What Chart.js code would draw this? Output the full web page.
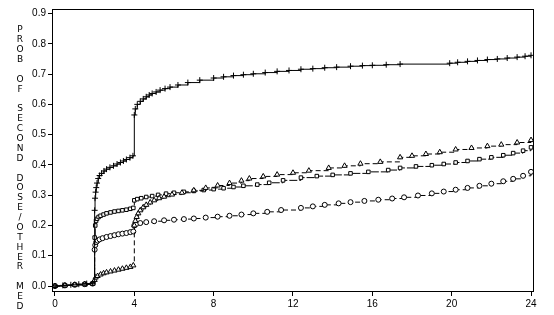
<!DOCTYPE html>
<html>
<head>
<meta charset="utf-8">
<script src="https://cdn.jsdelivr.net/npm/chart.js@4"></script>
<style>
  body { margin: 0; background: #fff; }
</style>
</head>
<body>
<canvas id="grafica" width="554" height="315"></canvas>
<script>
// datos (meses vs probabilidad acumulada)
const xTicks = [0, 4, 8, 12, 16, 20, 24];
const yTicks = [0, 0.1, 0.2, 0.3, 0.4, 0.5, 0.6, 0.7, 0.8, 0.9];
const tituloY = "PROB OF SECOND DOSE/OTHER MED";

// serie "+"
const plusT = [0, 0.4, 0.8, 1.2, 1.6, 1.9, 2.0, 2.02, 2.05, 2.08, 2.12, 2.18, 2.25, 2.35, 2.47, 2.6, 2.77, 2.95, 3.13, 3.3, 3.45, 3.6, 3.78, 3.93, 4.0, 4.05, 4.15, 4.3, 4.45, 4.6, 4.75, 4.9, 5.1, 5.3, 5.55, 5.8, 6.2, 6.7, 7.3, 8.0, 8.5, 9.0, 9.5, 10.0, 10.6, 11.2, 11.8, 12.4, 13.0, 13.6, 14.2, 14.9, 15.5, 16.0, 16.7, 17.4, 19.9, 20.3, 20.8, 21.3, 21.8, 22.3, 22.8, 23.3, 23.7, 24.0];
const plusY = [0, 0.002, 0.004, 0.006, 0.008, 0.01, 0.25, 0.29, 0.31, 0.325, 0.34, 0.355, 0.365, 0.372, 0.38, 0.386, 0.392, 0.397, 0.403, 0.408, 0.413, 0.418, 0.424, 0.43, 0.565, 0.585, 0.6, 0.61, 0.618, 0.625, 0.631, 0.636, 0.641, 0.647, 0.652, 0.657, 0.664, 0.672, 0.68, 0.687, 0.691, 0.695, 0.698, 0.701, 0.705, 0.709, 0.712, 0.716, 0.718, 0.721, 0.723, 0.726, 0.728, 0.729, 0.731, 0.733, 0.736, 0.739, 0.742, 0.745, 0.748, 0.75, 0.753, 0.756, 0.759, 0.762];

// serie triangulos
const triT = [0, 0.5, 1.0, 1.5, 1.9, 2.0, 2.05, 2.15, 2.3, 2.45, 2.6, 2.8, 3.0, 3.2, 3.4, 3.6, 3.8, 3.95, 4.0, 4.05, 4.12, 4.2, 4.3, 4.45, 4.6, 4.8, 5.0, 5.25, 5.5, 5.9, 6.4, 7.0, 7.6, 8.2, 8.8, 9.4, 9.8, 10.5, 11.2, 12.0, 12.8, 13.8, 14.6, 15.4, 16.4, 17.4, 18.0, 18.7, 19.4, 20.2, 21.0, 21.8, 22.5, 23.3, 24.0];
const triY = [0, 0.002, 0.004, 0.006, 0.008, 0.02, 0.028, 0.033, 0.038, 0.042, 0.045, 0.048, 0.051, 0.054, 0.057, 0.06, 0.063, 0.068, 0.2, 0.215, 0.228, 0.24, 0.25, 0.26, 0.268, 0.276, 0.283, 0.29, 0.295, 0.302, 0.308, 0.316, 0.324, 0.332, 0.34, 0.348, 0.355, 0.362, 0.368, 0.374, 0.381, 0.39, 0.397, 0.404, 0.41, 0.425, 0.43, 0.436, 0.442, 0.451, 0.456, 0.462, 0.467, 0.474, 0.482];

// serie cuadrados
const sqT = [0, 0.5, 1.0, 1.5, 1.9, 2.0, 2.03, 2.07, 2.12, 2.2, 2.3, 2.45, 2.6, 2.8, 3.0, 3.2, 3.4, 3.6, 3.8, 3.95, 4.0, 4.15, 4.35, 4.6, 4.9, 5.2, 5.6, 6.0, 6.5, 7.0, 7.5, 8.0, 8.5, 9.0, 9.5, 10.2, 10.8, 11.5, 12.4, 13.2, 14.0, 14.9, 15.8, 16.8, 17.4, 18.2, 19.0, 19.6, 20.2, 20.8, 21.4, 22.0, 22.6, 23.1, 23.6, 24.0];
const sqY = [0, 0.002, 0.004, 0.006, 0.008, 0.16, 0.2, 0.215, 0.222, 0.228, 0.232, 0.236, 0.24, 0.243, 0.246, 0.248, 0.25, 0.252, 0.255, 0.258, 0.283, 0.287, 0.29, 0.294, 0.297, 0.301, 0.305, 0.308, 0.311, 0.314, 0.317, 0.32, 0.323, 0.327, 0.331, 0.335, 0.341, 0.349, 0.358, 0.363, 0.367, 0.372, 0.377, 0.383, 0.39, 0.395, 0.399, 0.403, 0.408, 0.413, 0.419, 0.425, 0.432, 0.439, 0.447, 0.458];

// serie circulos
const circT = [0, 0.5, 1.0, 1.5, 1.9, 2.0, 2.03, 2.08, 2.15, 2.25, 2.4, 2.6, 2.8, 3.0, 3.2, 3.4, 3.6, 3.8, 3.95, 4.0, 4.1, 4.3, 4.6, 5.0, 5.5, 6.0, 6.5, 7.0, 7.6, 8.2, 8.8, 9.4, 10.0, 10.7, 11.4, 12.4, 13.0, 13.6, 14.3, 14.9, 15.6, 16.3, 17.0, 17.6, 18.3, 19.0, 19.6, 20.2, 20.8, 21.4, 22.0, 22.6, 23.1, 23.6, 24.0];
const circY = [0, 0.002, 0.004, 0.006, 0.008, 0.12, 0.135, 0.145, 0.15, 0.154, 0.158, 0.162, 0.165, 0.168, 0.171, 0.173, 0.175, 0.178, 0.18, 0.2, 0.205, 0.208, 0.211, 0.214, 0.217, 0.219, 0.221, 0.223, 0.226, 0.229, 0.232, 0.236, 0.24, 0.245, 0.251, 0.258, 0.263, 0.268, 0.273, 0.277, 0.281, 0.285, 0.289, 0.293, 0.299, 0.306, 0.312, 0.318, 0.324, 0.331, 0.338, 0.346, 0.354, 0.364, 0.377];

function puntos(ts, ys) {
    return ts.map((t, i) => ({ x: t, y: ys[i] }));
}

function serie(ts, ys, estilo, dash, radio) {
    return {
        data: puntos(ts, ys),
        stepped: true,
        borderColor: "#000",
        borderWidth: 1,
        borderDash: dash,
        pointStyle: estilo,
        pointRadius: radio,
        pointBorderColor: "#000",
        pointBackgroundColor: "#fff",
        pointBorderWidth: 1
    };
}

// marco completo y titulo vertical letra por letra
const marco = {
    id: "marco",
    afterDraw(chart) {
        const ctx = chart.ctx;
        const a = chart.chartArea;
        ctx.save();
        ctx.strokeStyle = "#000";
        ctx.lineWidth = 1;
        ctx.strokeRect(a.left + 0.5, a.top + 0.5, a.right - a.left, a.bottom - a.top);

        ctx.fillStyle = "#000";
        ctx.font = "9px 'DejaVu Sans'";
        ctx.textAlign = "center";
        ctx.textBaseline = "middle";
        for (let i = 0; i < tituloY.length; i++) {
            ctx.fillText(tituloY[i], 20, 30 + i * 9.88);
        }
        ctx.restore();
    }
};

Chart.defaults.font.family = "'Liberation Sans', Arial, sans-serif";
Chart.defaults.font.size = 10;
Chart.defaults.color = "#000";

const ctx = document.getElementById("grafica").getContext("2d");
new Chart(ctx, {
    type: "line",
    data: {
        datasets: [
            serie(plusT, plusY, "cross", [], 3),
            serie(triT, triY, "triangle", [5, 3], 3),
            serie(sqT, sqY, "rect", [8, 2], 2.5),
            serie(circT, circY, "circle", [5, 3], 2.5)
        ]
    },
    options: {
        responsive: false,
        animation: false,
        devicePixelRatio: 1,
        layout: { padding: { left: 0, right: 21, top: 9, bottom: 0 } },
        plugins: {
            legend: { display: false },
            tooltip: { enabled: false }
        },
        scales: {
            x: {
                type: "linear",
                min: -0.15,
                max: 24.1,
                afterBuildTicks: s => { s.ticks = xTicks.map(v => ({ value: v })); },
                afterFit: s => { s.height = 24; },
                grid: { drawOnChartArea: false, tickLength: 5, color: "#000" },
                border: { color: "#000" },
                ticks: { padding: 2, maxRotation: 0, autoSkip: false, callback: v => String(v) }
            },
            y: {
                type: "linear",
                min: -0.0165,
                max: 0.915,
                afterBuildTicks: s => { s.ticks = yTicks.map(v => ({ value: v })); },
                afterFit: s => { s.width = 52; },
                grid: { drawOnChartArea: false, tickLength: 4, color: "#000" },
                border: { color: "#000" },
                ticks: { padding: 2, autoSkip: false, callback: v => v.toFixed(1) }
            }
        }
    },
    plugins: [marco]
});
</script>
</body>
</html>
